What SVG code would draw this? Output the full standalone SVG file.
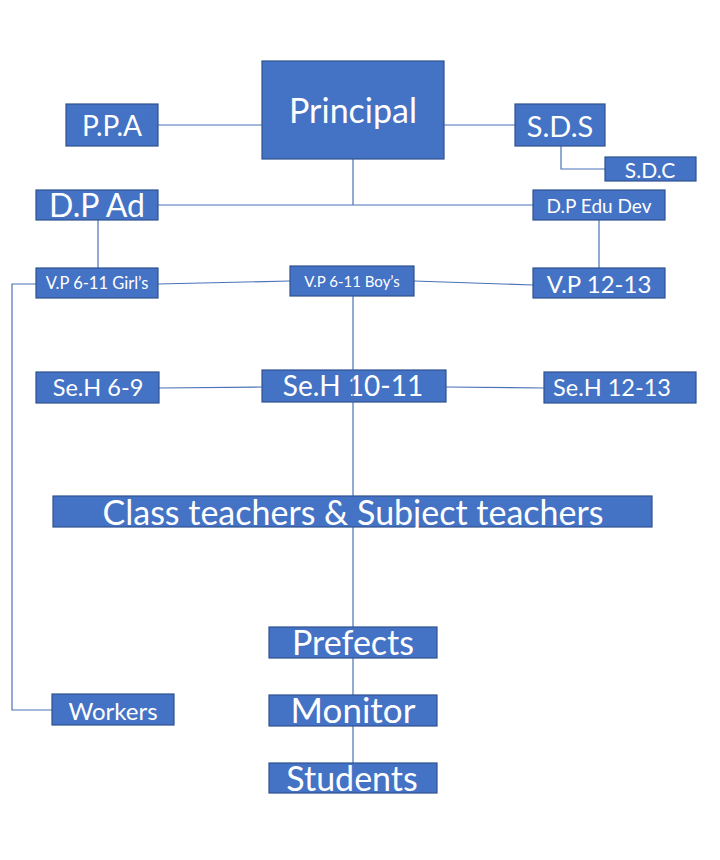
<svg xmlns="http://www.w3.org/2000/svg" width="720" height="860" viewBox="0 0 720 860">
<style>
.b{fill:#4472C4;stroke:#2F528F;stroke-width:1.2}
.t{fill:#fff;font-family:Lato,"Open Sans",sans-serif;text-anchor:middle;dominant-baseline:central}
.c{fill:none;stroke:#4A72B8;stroke-width:1.2}
</style>
<rect width="720" height="860" fill="#fff"/>
<g id="connectors">
<polyline class="c" points="158,125 262,125"/>
<polyline class="c" points="444,125 515,125"/>
<polyline class="c" points="561,146 561,169 605,169"/>
<polyline class="c" points="353,159 353,205"/>
<polyline class="c" points="158,205 533,205"/>
<polyline class="c" points="98,220 98,268"/>
<polyline class="c" points="599,220 599,268"/>
<polyline class="c" points="158,284 290,281"/>
<polyline class="c" points="414,281 533,285"/>
<polyline class="c" points="36,284 12,284 12,710 52,710"/>
<polyline class="c" points="159,388 262,387"/>
<polyline class="c" points="446,387 544,388"/>
<polyline class="c" points="353,527 353,627"/>
<polyline class="c" points="353,658 353,695"/>
<polyline class="c" points="353,726 353,763"/>
</g>
<g id="principal"><rect class="b" x="262" y="61" width="182" height="98"/><text class="t" x="353" y="109" font-size="34">Principal</text></g>
<g id="ppa"><rect class="b" x="66" y="104" width="92" height="42"/><text class="t" x="112" y="125" font-size="28">P.P.A</text></g>
<g id="sds"><rect class="b" x="515" y="104" width="90" height="42"/><text class="t" x="560" y="125" font-size="29">S.D.S</text></g>
<g id="sdc"><rect class="b" x="605" y="157" width="91" height="24"/><text class="t" x="650" y="169" font-size="21">S.D.C</text></g>
<g id="dpad"><rect class="b" x="36" y="190" width="122" height="30"/><text class="t" x="97" y="204" font-size="32">D.P Ad</text></g>
<g id="dpedu"><rect class="b" x="533" y="190" width="132" height="30"/><text class="t" x="599" y="205" font-size="19">D.P Edu Dev</text></g>
<line class="c" x1="353" y1="296" x2="353" y2="497"/>
<g id="vpgirls"><rect class="b" x="36" y="268" width="122" height="30"/><text class="t" x="97" y="283" font-size="16.5">V.P 6-11 Girl’s</text></g>
<g id="vpboys"><rect class="b" x="290" y="266" width="124" height="30"/><text class="t" x="352" y="281" font-size="15">V.P 6-11 Boy’s</text></g>
<g id="vp1213"><rect class="b" x="533" y="268" width="132" height="30"/><text class="t" x="599" y="283" font-size="24">V.P 12-13</text></g>
<g id="seh69"><rect class="b" x="36" y="372" width="123" height="31"/><text class="t" x="98" y="387" font-size="23.5">Se.H 6-9</text></g>
<g id="seh1011"><rect class="b" x="262" y="370" width="184" height="32"/><text class="t" x="353" y="385" font-size="28">Se.H 10-11</text><line class="c" x1="353" y1="370" x2="353" y2="402"/></g>
<g id="seh1213"><rect class="b" x="544" y="372" width="152" height="31"/><text class="t" x="612" y="387" font-size="23.5">Se.H 12-13</text></g>
<g id="teachers"><rect class="b" x="53" y="496" width="599" height="31"/><text class="t" x="353" y="511" font-size="34">Class teachers &amp; Subject teachers</text></g>
<g id="prefects"><rect class="b" x="269" y="627" width="168" height="31"/><text class="t" x="353" y="641" font-size="34">Prefects</text></g>
<g id="monitor"><rect class="b" x="269" y="695" width="168" height="31"/><text class="t" x="353" y="709" font-size="35">Monitor</text></g>
<g id="students"><rect class="b" x="269" y="763" width="168" height="30"/><text class="t" x="352" y="777" font-size="34">Students</text></g>
<g id="workers"><rect class="b" x="52" y="694" width="122" height="31"/><text class="t" x="113" y="710" font-size="24">Workers</text></g>
</svg>
